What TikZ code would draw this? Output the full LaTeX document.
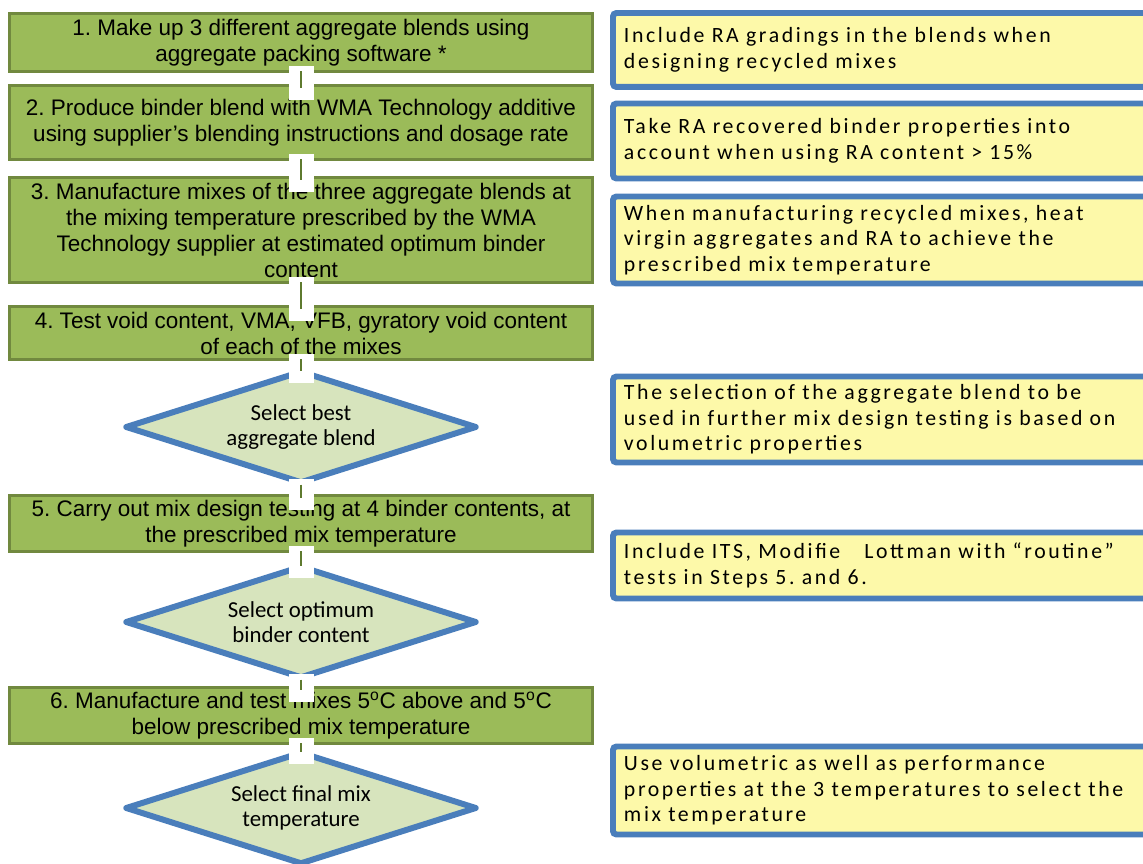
\documentclass[tikz,border=0pt]{standalone}
\usepackage{fontspec}
\setmainfont{Liberation Sans}
\newfontfamily\decfont{Carlito}
\newfontfamily\notefont[LetterSpace=12]{Carlito}
\usetikzlibrary{shapes.geometric}
\definecolor{stepfill}{HTML}{9BBB59}
\definecolor{stepline}{HTML}{71893F}
\definecolor{decfill}{HTML}{D7E4BD}
\definecolor{blueline}{HTML}{4A7EBB}
\definecolor{notefill}{HTML}{FDF9A9}
\definecolor{tickgreen}{HTML}{5E7A2F}
\tikzset{
  stepbox/.style={draw=stepline, fill=stepfill, line width=1.7pt, minimum width=11.66cm,
    inner sep=0pt, align=center, font=\fontsize{12.8}{14.8}\selectfont},
  decision/.style={diamond, shape aspect=3.1, draw=blueline, fill=decfill, line width=3.4pt,
    line join=round, minimum width=7.04cm, minimum height=2.26cm, inner sep=0pt, align=center,
    font=\decfont\fontsize{13}{14.6}\selectfont},
  notebox/.style={anchor=west, draw=blueline, fill=notefill, line width=3.4pt, rounded corners=2pt,
    inner xsep=0.22cm, inner ysep=0pt, text width=10.36cm, align=left,
    font=\notefont\fontsize{12.4}{14.6}\selectfont},
  gapcover/.style={draw=white, line width=0.5cm, shorten <=-4pt, shorten >=-9pt},
  tick/.style={draw=tickgreen, line width=1.7pt, shorten <=-1pt, shorten >=-2pt}
}
\begin{document}
\frenchspacing
\begin{tikzpicture}[x=0.02cm, y=-0.02cm]
  \useasboundingbox (0,0) rectangle (1143,864);
  \draw
    (301,42.5) node[stepbox, minimum height=1.16cm] (s1)
      {1. Make up 3 different aggregate blends using\\aggregate packing software *}
    (301,122.5) node[stepbox, minimum height=1.48cm] (s2)
      {2. Produce binder blend with WMA Technology additive\\using supplier’s blending instructions and dosage rate}
    (301,230) node[stepbox, minimum height=2.1cm] (s3)
      {3. Manufacture mixes of the three aggregate blends at\\the mixing temperature prescribed by the WMA\\Technology supplier at estimated optimum binder\\content}
    (301,333) node[stepbox, minimum height=1.06cm] (s4)
      {4. Test void content, VMA, VFB, gyratory void content\\of each of the mixes}
    (301,427) node[decision] (d1) {Select best\\aggregate blend}
    (301,523.5) node[stepbox, minimum height=1.12cm] (s5)
      {5. Carry out mix design testing at 4 binder contents, at\\the prescribed mix temperature}
    (301,622) node[decision] (d2) {Select optimum\\binder content}
    (301,715.5) node[stepbox, minimum height=1.12cm] (s6)
      {6. Manufacture and test mixes 5\textsuperscript{o}C above and 5\textsuperscript{o}C\\below prescribed mix temperature}
    (301,808) node[decision] (d3) {Select final mix\\temperature};
  \draw
    (610,50) node[notebox, minimum height=1.48cm] (n1)
      {Include RA gradings in the blends when\\designing recycled mixes}
    (610,141) node[notebox, minimum height=1.5cm] (n2)
      {Take RA recovered binder properties into\\account when using RA content > 15\%}
    (610,240) node[notebox, minimum height=1.74cm] (n3)
      {When manufacturing recycled mixes, heat\\virgin aggregates and RA to achieve the\\prescribed mix temperature}
    (610,419.5) node[notebox, minimum height=1.72cm] (n4)
      {The selection of the aggregate blend to be\\used in further mix design testing is based on\\volumetric properties}
    (610,565.5) node[notebox, minimum height=1.32cm] (n5)
      {Include ITS, Modifie\hspace{1.1em}Lottman with “routine”\\tests in Steps 5. and 6.}
    (610,790.5) node[notebox, minimum height=1.76cm] (n6)
      {Use volumetric as well as performance\\properties at the 3 temperatures to select the\\mix temperature};
  \foreach \a/\b in {s1/s2, s2/s3, s3/s4, s4/d1, d1/s5, s5/d2, d2/s6, s6/d3} {
    \draw[gapcover] (\a.south) -- (\b.north);
    \draw[tick] (\a.south) -- (\b.north);
  }
\end{tikzpicture}
\end{document}
